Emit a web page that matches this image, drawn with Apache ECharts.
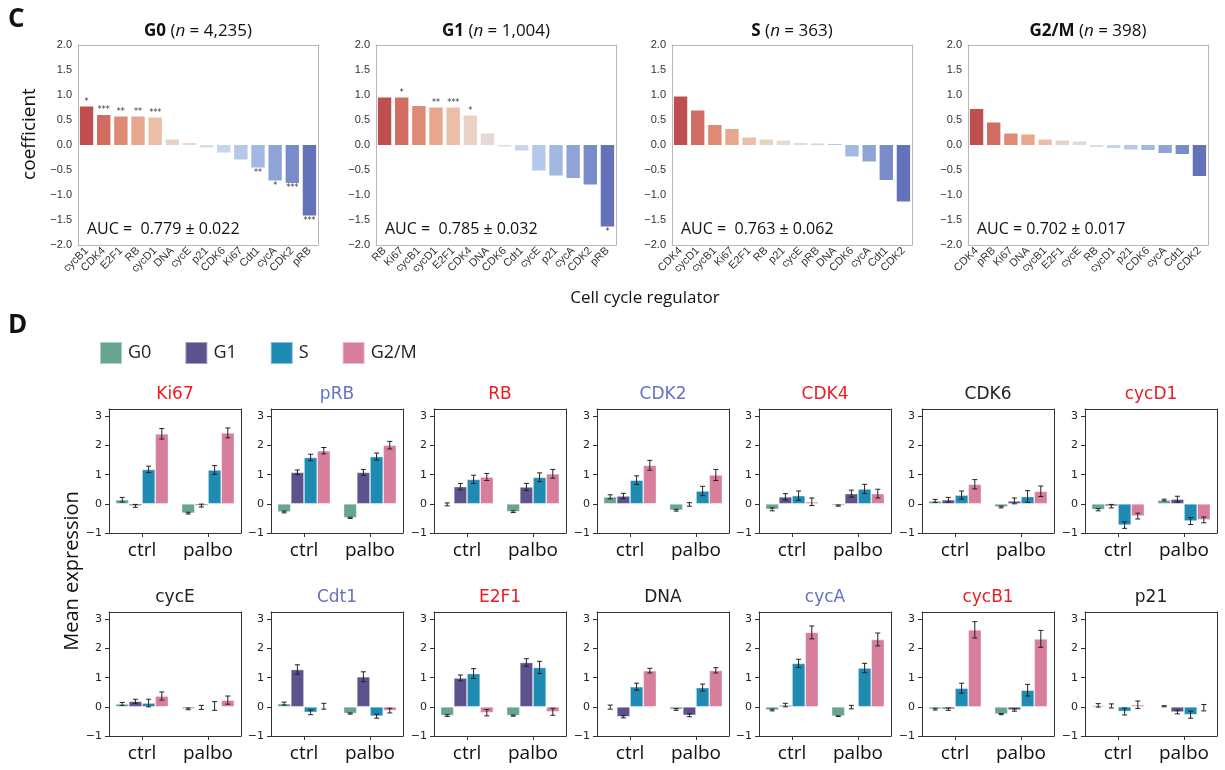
<!DOCTYPE html>
<html><head><meta charset="utf-8">
<script src="https://cdn.jsdelivr.net/npm/echarts@6/dist/echarts.min.js"></script>
<style>html,body{margin:0;padding:0;background:#fff}#c{width:1225px;height:770px}</style>
</head><body><div id="c"></div><script>
// ---------- Panel C data ----------
const phasesC = ['G0', 'G1', 'S', 'G2/M'];
const nC = ['4,235', '1,004', '363', '398'];
const aucC = ['AUC =  0.779 ± 0.022', 'AUC =  0.785 ± 0.032', 'AUC =  0.763 ± 0.062', 'AUC = 0.702 ± 0.017'];

const G0_regulators = ['cycB1','CDK4','E2F1','RB','cycD1','DNA','cycE','p21','CDK6','Ki67','Cdt1','cycA','CDK2','pRB'];
const G0_coef = [0.77, 0.60, 0.57, 0.57, 0.55, 0.11, 0.04, -0.05, -0.15, -0.29, -0.45, -0.71, -0.76, -1.41];
const G0_stars = ['*','***','**','**','***','','','','','','**','*','***','***'];

const G1_regulators = ['RB','Ki67','cycB1','cycD1','E2F1','CDK4','DNA','CDK6','Cdt1','cycE','p21','cycA','CDK2','pRB'];
const G1_coef = [0.95, 0.95, 0.78, 0.75, 0.75, 0.59, 0.23, -0.03, -0.11, -0.51, -0.61, -0.66, -0.79, -1.63];
const G1_stars = ['','*','','**','***','*','','','','','','','','*'];

const S_regulators = ['CDK4','cycD1','cycB1','Ki67','E2F1','RB','p21','cycE','pRB','DNA','CDK6','cycA','Cdt1','CDK2'];
const S_coef = [0.97, 0.69, 0.40, 0.32, 0.15, 0.11, 0.09, 0.04, 0.03, 0.02, -0.23, -0.33, -0.70, -1.13];
const S_stars = ['','','','','','','','','','','','','',''];

const G2M_regulators = ['CDK4','pRB','Ki67','DNA','cycB1','E2F1','cycE','RB','cycD1','p21','CDK6','cycA','Cdt1','CDK2'];
const G2M_coef = [0.72, 0.45, 0.23, 0.21, 0.11, 0.09, 0.07, -0.04, -0.06, -0.09, -0.10, -0.16, -0.18, -0.62];
const G2M_stars = ['','','','','','','','','','','','','',''];

const yTicksC = [-2, -1.5, -1, -0.5, 0, 0.5, 1, 1.5, 2];

// ---------- Panel D data ----------
const markers = ['Ki67','pRB','RB','CDK2','CDK4','CDK6','cycD1','cycE','Cdt1','E2F1','DNA','cycA','cycB1','p21'];
const conditions = ['ctrl', 'palbo'];
const phasesD = ['G0', 'G1', 'S', 'G2/M'];
const yTicksD = [-1, 0, 1, 2, 3];

const ctrl_G0  = [0.14,-0.28,-0.02,0.24,-0.19,0.10,-0.20, 0.10,0.11,-0.30,-0.01,-0.11,-0.08,0.05];
const ctrl_G1  = [-0.07,1.08,0.59,0.27,0.24,0.14,-0.08, 0.19,1.28,0.99,-0.34,0.06,-0.08,0.03];
const ctrl_S   = [1.18,1.59,0.84,0.81,0.28,0.30,-0.73, 0.13,-0.19,1.14,0.69,1.49,0.64,-0.16];
const ctrl_G2M = [2.40,1.82,0.92,1.32,0.07,0.67,-0.42, 0.37,0.02,-0.20,1.24,2.55,2.64,0.07];
const palbo_G0  = [-0.32,-0.48,-0.27,-0.22,-0.06,-0.11,0.13, -0.07,-0.23,-0.30,-0.09,-0.32,-0.25,0.02];
const palbo_G1  = [-0.06,1.08,0.58,-0.02,0.35,0.10,0.16, -0.02,1.03,1.52,-0.29,-0.01,-0.11,-0.18];
const palbo_S   = [1.16,1.62,0.91,0.44,0.51,0.25,-0.59, 0.03,-0.32,1.35,0.66,1.33,0.57,-0.27];
const palbo_G2M = [2.43,2.01,1.03,0.99,0.35,0.43,-0.55, 0.23,-0.13,-0.17,1.25,2.31,2.33,-0.03];

const ctrl_G0_err  = [0.08,0.03,0.05,0.07,0.05,0.05,0.04, 0.05,0.05,0.03,0.07,0.03,0.03,0.06];
const ctrl_G1_err  = [0.05,0.08,0.11,0.09,0.11,0.08,0.06, 0.07,0.16,0.10,0.04,0.06,0.04,0.07];
const ctrl_S_err   = [0.11,0.11,0.14,0.15,0.16,0.14,0.11, 0.13,0.08,0.17,0.12,0.14,0.17,0.12];
const ctrl_G2M_err = [0.18,0.11,0.12,0.17,0.13,0.16,0.10, 0.14,0.10,0.11,0.08,0.22,0.28,0.13];
const palbo_G0_err  = [0.03,0.02,0.03,0.03,0.02,0.03,0.03, 0.03,0.02,0.02,0.03,0.01,0.02,0.02];
const palbo_G1_err  = [0.05,0.10,0.12,0.06,0.12,0.10,0.10, 0.07,0.17,0.13,0.05,0.06,0.04,0.06];
const palbo_S_err   = [0.15,0.12,0.15,0.16,0.16,0.20,0.12, 0.15,0.07,0.21,0.12,0.16,0.20,0.12];
const palbo_G2M_err = [0.17,0.13,0.15,0.19,0.15,0.18,0.10, 0.14,0.08,0.12,0.09,0.22,0.29,0.11];

// ---------- styles ----------
const coolwarm = ['#bf4e4e','#d06c61','#de8a75','#e8a68e','#ecbea8','#e9d1c6','#e4d9d6',
                  '#d8dce6','#c8d5ed','#b5c8ea','#a2b7e2','#8ea3d6','#7a8bca','#6472b9'];
const phaseColors = ['#68a58f', '#5d528c', '#1e8bb3', '#d87e9d'];
const markerColors = ['#ec1c24','#6373c2','#ec1c24','#6373c2','#ec1c24','#222222','#ec1c24',
                      '#222222','#6373c2','#ec1c24','#222222','#6373c2','#ec1c24','#222222'];
const SANS = 'Open Sans';
const minus = s => String(s).replace('-', '\u2212');

const topRegs = [G0_regulators, G1_regulators, S_regulators, G2M_regulators];
const topCoef = [G0_coef, G1_coef, S_coef, G2M_coef];
const topStars = [G0_stars, G1_stars, S_stars, G2M_stars];
const ctrlMeans = [ctrl_G0, ctrl_G1, ctrl_S, ctrl_G2M];
const palboMeans = [palbo_G0, palbo_G1, palbo_S, palbo_G2M];
const ctrlErrs = [ctrl_G0_err, ctrl_G1_err, ctrl_S_err, ctrl_G2M_err];
const palboErrs = [palbo_G0_err, palbo_G1_err, palbo_S_err, palbo_G2M_err];

const grids = [], xAxes = [], yAxes = [], series = [], graphics = [];

// frame helper: adds a top x axis and right y axis that only draw their lines
function addFrame(gi, cats, ymin, ymax, color) {
  xAxes.push({type: 'category', gridIndex: gi, position: 'top', data: cats,
    axisLine: {show: true, onZero: false, lineStyle: {color: color, width: 1}},
    axisTick: {show: false}, axisLabel: {show: false}, splitLine: {show: false}});
  yAxes.push({type: 'value', gridIndex: gi, position: 'right', min: ymin, max: ymax,
    axisLine: {show: true, onZero: false, lineStyle: {color: color, width: 1}},
    axisTick: {show: false}, axisLabel: {show: false}, splitLine: {show: false}});
}

// ---------- Panel C ----------
const topLeft = [78, 376, 672, 968], topW = 240, topTop = 45, topH = 200;
const frameC = '#b8b8b8';
for (let i = 0; i < 4; i++) {
  grids.push({left: topLeft[i], top: topTop, width: topW, height: topH});
  const xi = xAxes.length, yi = yAxes.length;
  xAxes.push({type: 'category', gridIndex: i, data: topRegs[i],
    axisLine: {show: true, onZero: false, lineStyle: {color: frameC}}, axisTick: {show: false},
    axisLabel: {interval: 0, rotate: 45, fontSize: 11, fontFamily: 'Liberation Sans', color: '#333', margin: 4}});
  yAxes.push({type: 'value', gridIndex: i, min: yTicksC[0], max: yTicksC[yTicksC.length - 1], interval: 0.5,
    axisLine: {show: true, onZero: false, lineStyle: {color: frameC}}, axisTick: {show: false}, splitLine: {show: false},
    axisLabel: {fontSize: 11, fontFamily: 'Liberation Sans', color: '#333', margin: 6,
                formatter: v => minus(v.toFixed(1))}});
  addFrame(i, topRegs[i], yTicksC[0], yTicksC[yTicksC.length - 1], frameC);
  series.push({type: 'bar', xAxisIndex: xi, yAxisIndex: yi, barCategoryGap: '22%',
    label: {show: true, position: 'outside', distance: 1, fontSize: 8, fontFamily: 'DejaVu Sans', color: '#333',
            formatter: p => topStars[i][p.dataIndex]},
    data: topCoef[i].map((v, j) => ({value: v, itemStyle: {color: coolwarm[j]}}))});
  graphics.push({type: 'text', x: topLeft[i] + topW / 2, y: 31,
    style: {text: '{b|' + phasesC[i] + '} ({i|n} = ' + nC[i] + ')', align: 'center', verticalAlign: 'middle',
            fontSize: 17, fontFamily: SANS, fill: '#111',
            rich: {b: {fontWeight: 'bold', fontSize: 17, fontFamily: SANS, fill: '#111'},
                   i: {fontStyle: 'italic', fontSize: 17, fontFamily: SANS, fill: '#111'}}}});
  graphics.push({type: 'text', x: topLeft[i] + 9, y: 229,
    style: {text: aucC[i], align: 'left', verticalAlign: 'middle', fontSize: 16, fontFamily: SANS, fill: '#111'}});
}

// ---------- Panel D ----------
const dLeft = [109, 271, 434, 597, 759, 922, 1085], dW = 132, dTop = [409, 612], dH = 124;
const frameD = '#333';
for (let k = 0; k < markers.length; k++) {
  const r = Math.floor(k / 7), c = k % 7, gi = 4 + k;
  grids.push({left: dLeft[c], top: dTop[r], width: dW, height: dH});
  const xi = xAxes.length, yi = yAxes.length;
  xAxes.push({type: 'category', gridIndex: gi, data: conditions,
    axisLine: {show: true, onZero: false, lineStyle: {color: frameD}},
    axisTick: {show: true, alignWithLabel: true, length: 4, lineStyle: {color: frameD}},
    axisLabel: {fontSize: 19, fontFamily: SANS, color: '#111', margin: 8}});
  yAxes.push({type: 'value', gridIndex: gi, min: -1, max: 3.25, interval: 1,
    axisLine: {show: true, onZero: false, lineStyle: {color: frameD}}, splitLine: {show: false},
    axisTick: {show: true, length: 4, lineStyle: {color: frameD}, customValues: yTicksD},
    axisLabel: {fontSize: 11, fontFamily: 'DejaVu Sans', color: '#222', margin: 7,
                customValues: yTicksD, formatter: v => minus(v)}});
  addFrame(gi, conditions, -1, 3.25, frameD);
  const errData = [];
  for (let p = 0; p < 4; p++) {
    series.push({type: 'bar', name: phasesD[p], xAxisIndex: xi, yAxisIndex: yi,
      barGap: '0%', barCategoryGap: '20%',
      itemStyle: {color: phaseColors[p], borderColor: 'rgba(255,255,255,0.45)', borderWidth: 0.8},
      data: [ctrlMeans[p][k], palboMeans[p][k]]});
    errData.push([0, p, ctrlMeans[p][k], ctrlErrs[p][k]]);
    errData.push([1, p, palboMeans[p][k], palboErrs[p][k]]);
  }
  series.push({type: 'custom', name: 'err', xAxisIndex: xi, yAxisIndex: yi, z: 10,
    encode: {x: 0, y: 2}, data: errData,
    renderItem: (params, api) => {
      const cat = api.value(0), p = api.value(1), m = api.value(2), e = api.value(3);
      const band = api.size([1, 0])[0];
      const cx = api.coord([cat, 0])[0] - 0.4 * band + 0.2 * band * (p + 0.5);
      const y1 = api.coord([cat, m + e])[1], y2 = api.coord([cat, m - e])[1];
      const cap = 2.5, st = {stroke: '#222', lineWidth: 1};
      return {type: 'group', children: [
        {type: 'line', shape: {x1: cx, y1: y1, x2: cx, y2: y2}, style: st},
        {type: 'line', shape: {x1: cx - cap, y1: y1, x2: cx + cap, y2: y1}, style: st},
        {type: 'line', shape: {x1: cx - cap, y1: y2, x2: cx + cap, y2: y2}, style: st}]};
    }});
  graphics.push({type: 'text', x: dLeft[c] + dW / 2, y: r === 0 ? 395 : 598,
    style: {text: markers[k], align: 'center', verticalAlign: 'middle', fontSize: 17,
            fontFamily: 'DejaVu Sans', fill: markerColors[k]}});
}

// ---------- free texts ----------
graphics.push({type: 'text', x: 8, y: 20, style: {text: 'C', fontSize: 26, fontWeight: 'bold', fontFamily: SANS, fill: '#111', verticalAlign: 'middle'}});
graphics.push({type: 'text', x: 8, y: 326, style: {text: 'D', fontSize: 26, fontWeight: 'bold', fontFamily: SANS, fill: '#111', verticalAlign: 'middle'}});
graphics.push({type: 'text', x: 30, y: 134, rotation: Math.PI / 2,
  style: {text: 'coefficient', fontSize: 19, fontFamily: SANS, fill: '#111', align: 'center', verticalAlign: 'middle'}});
graphics.push({type: 'text', x: 645, y: 298,
  style: {text: 'Cell cycle regulator', fontSize: 17, fontFamily: SANS, fill: '#111', align: 'center', verticalAlign: 'middle'}});
graphics.push({type: 'text', x: 72, y: 571, rotation: Math.PI / 2,
  style: {text: 'Mean expression', fontSize: 20, fontFamily: SANS, fill: '#111', align: 'center', verticalAlign: 'middle'}});

const chart = echarts.init(document.getElementById('c'), null, {renderer: 'canvas', width: 1225, height: 770});
chart.setOption({
  animation: false,
  backgroundColor: '#fff',
  legend: {data: phasesD, left: 99, top: 341, padding: 0, itemWidth: 22, itemHeight: 22, itemGap: 33,
           icon: 'rect', selectedMode: false,
           textStyle: {fontSize: 18, fontFamily: SANS, color: '#222', padding: [0, 0, 0, 1]}},
  grid: grids, xAxis: xAxes, yAxis: yAxes, series: series, graphic: graphics
});
</script></body></html>
